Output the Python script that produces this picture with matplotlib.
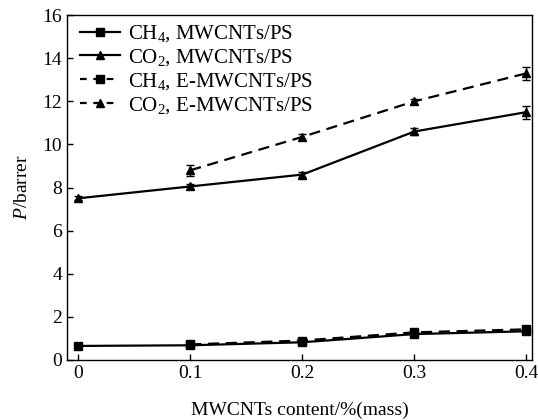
import matplotlib
matplotlib.use("Agg")
import matplotlib.pyplot as plt
from matplotlib.lines import Line2D

plt.rcParams['font.family'] = ['Liberation Serif', 'DejaVu Serif']
plt.rcParams['mathtext.fontset'] = 'custom'
plt.rcParams['mathtext.rm'] = 'Liberation Serif'
plt.rcParams['mathtext.it'] = 'Liberation Serif:italic'

x_m = [0, 0.1, 0.2, 0.3, 0.4]
x_e = [0.1, 0.2, 0.3, 0.4]
ch4_m = [0.65, 0.68, 0.82, 1.2, 1.33]
ch4_m_err = [0.05, 0.05, 0.06, 0.08, 0.1]
co2_m = [7.5, 8.05, 8.6, 10.6, 11.5]
co2_m_err = [0.1, 0.12, 0.1, 0.15, 0.3]
ch4_e = [0.72, 0.9, 1.28, 1.42]
ch4_e_err = [0.05, 0.06, 0.08, 0.1]
co2_e = [8.8, 10.35, 12.0, 13.3]
co2_e_err = [0.25, 0.15, 0.12, 0.3]

labels = ['CH$_4$, MWCNTs/PS', 'CO$_2$, MWCNTs/PS',
          'CH$_4$, E-MWCNTs/PS', 'CO$_2$, E-MWCNTs/PS']
xticks = [0, 0.1, 0.2, 0.3, 0.4]
xticklabels = ['0', '0.1', '0.2', '0.3', '0.4']
yticks = [0, 2, 4, 6, 8, 10, 12, 14, 16]

fig = plt.figure(figsize=(5.38, 4.2), dpi=100)
ax = fig.add_axes([0.1245, 0.143, 0.8645, 0.821])

kw = dict(color='black', lw=1.6, ms=6, capsize=3, elinewidth=1, capthick=1)
dash = (5, 3)
ax.errorbar(x_m, ch4_m, yerr=ch4_m_err, fmt='-s', **kw)
ax.errorbar(x_m, co2_m, yerr=co2_m_err, fmt='-^', **kw)
ax.errorbar(x_e, ch4_e, yerr=ch4_e_err, fmt='--s', dashes=dash, **kw)
ax.errorbar(x_e, co2_e, yerr=co2_e_err, fmt='--^', dashes=dash, **kw)

handles = [
    Line2D([], [], color='black', lw=1.6, marker='s', ms=6, ls='-'),
    Line2D([], [], color='black', lw=1.6, marker='^', ms=6, ls='-'),
    Line2D([], [], color='black', lw=1.6, marker='s', ms=6, ls='--', dashes=(3, 3)),
    Line2D([], [], color='black', lw=1.6, marker='^', ms=6, ls='--', dashes=(3, 3)),
]

ax.set_xlim(-0.01, 0.405)
ax.set_ylim(0, 16)
ax.set_xticks(xticks)
ax.set_xticklabels(xticklabels)
ax.set_yticks(yticks)
ax.tick_params(direction='in', labelsize=14, length=4, width=1, top=False, right=False)
for s in ax.spines.values():
    s.set_linewidth(1)

ax.set_xlabel('MWCNTs content/%(mass)', fontsize=14, labelpad=14)
ax.set_ylabel('$\\mathit{P}$/barrer', fontsize=14, labelpad=8)

ax.legend(handles, labels, loc='upper left', frameon=False, fontsize=15, handlelength=1.9,
          handletextpad=0.4, labelspacing=0.14, borderaxespad=0.0,
          bbox_to_anchor=(0.01, 1.0))

fig.savefig('out.png', dpi=100)
